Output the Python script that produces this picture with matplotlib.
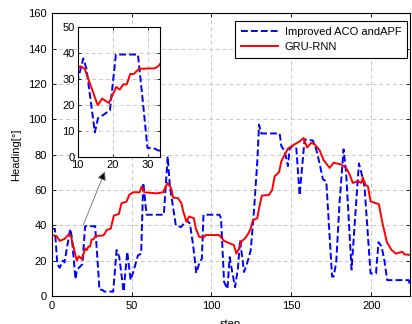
import matplotlib
matplotlib.use("Agg")
import matplotlib.pyplot as plt

plt.rcParams['font.family'] = ['Liberation Sans', 'DejaVu Sans']
plt.rcParams['font.size'] = 8

# ---- data (step, heading in degrees) ----
aco_step = [0, 2, 3.5, 5, 7, 8, 11.6, 12.5, 14.9, 15.8, 16.5, 19.2, 20.9, 27.2, 28.7, 29.9,
            31.6, 33, 38.5, 40.6, 42.3, 45, 47.3, 49.4, 51.5, 54, 56, 57.3, 59.4, 70.2,
            72.6, 74, 77.7, 81, 84.4, 86.5, 88.5, 90.5, 92.5, 94, 95, 105, 106, 107.9,
            110, 111.4, 113, 114.8, 116.6, 117.9, 120.4, 122.5, 124.6, 126.6, 128.7,
            129.8, 131.2, 142.7, 143.7, 145.8, 147.9, 148.9, 150.6, 153.1, 155.2, 158.3,
            163.5, 165.6, 167.7, 169.8, 171.9, 175.5, 176.5, 178.1, 180.2, 182.7, 184.3,
            187.7, 192.3, 193.8, 195.8, 199.6, 203, 204.6, 206.5, 208.3, 210, 223.5, 224]
aco_head = [38, 38, 18, 16, 20, 19, 38, 34, 9.5, 15, 15.5, 18, 39.5, 39.5, 20, 3.5,
            3.5, 2.5, 2.5, 26, 22, 2.5, 25, 9, 15, 23, 24, 64, 46, 46,
            79, 62, 40, 39, 43, 41, 29, 13, 19, 21, 46, 46, 44, 8,
            4, 22, 13.6, 5, 16, 31.6, 13.6, 19, 26, 48, 76,
            97, 92, 92, 85, 82, 73.5, 83, 85, 84, 57, 88.6,
            88, 83, 75, 66, 65, 11, 11, 19, 53, 83, 70,
            15, 75, 70, 62, 12.8, 12.8, 30.5, 28, 20, 9, 9, 7]

gru_step = [0, 3, 5, 8, 10.8, 12, 15.7, 17, 18.9, 21, 22, 23, 24, 25, 26, 27.5, 32, 33,
            34.4, 37, 38.9, 42, 43.7, 46.9, 48.5, 51, 55, 56.3, 57.9, 65.6, 69.7, 72.5,
            74.8, 76, 79.1, 81.2, 82.3, 84.4, 86, 89, 90.2, 92.3, 94.8, 96.4, 104.8,
            107.9, 111, 114, 115.6, 117.3, 118.9, 121, 123.1, 124.6, 126, 128.7, 129.8,
            131.5, 136, 138, 139.6, 142.3, 143.8, 145.8, 148, 152, 155.2, 157.7, 159.8,
            162.5, 164.6, 167.7, 170.2, 174, 176.5, 181, 184.3, 186.5, 188.5, 191.7,
            193.8, 194.8, 196.4, 198, 199.6, 204.8, 206.9, 209.8, 212.8, 215.4, 219.4,
            221, 224]
gru_head = [34.5, 34, 31.2, 32.3, 35, 34, 20, 22.5, 20.8, 27, 26, 28, 28, 32, 32, 34, 34.2, 35,
            37.3, 38.2, 45.5, 46.4, 52.5, 53.4, 57.2, 58.7, 58.7, 62, 58.7, 58.1, 58.7, 64,
            61, 55.7, 55.3, 52.5, 48, 42, 45, 44, 38.3, 33.5, 33, 34.5, 34.5,
            31.2, 30, 28.8, 24, 27, 31, 32.6, 35.4, 38.3, 43, 44, 49.6,
            56.8, 57.2, 60, 67.8, 70, 76.3, 80, 83.5, 85.8, 87.5, 89.4, 84,
            86.7, 85.8, 82.5, 77, 72.5, 75.4, 74.5, 72.5, 68.8, 64, 65,
            64, 67, 63, 62, 53.5, 52, 42, 30.5, 26, 24, 25,
            23.5, 23.3]

x_ticks = [0, 50, 100, 150, 200]
y_ticks = [0, 20, 40, 60, 80, 100, 120, 140, 160]
inset_x_ticks = [10, 20, 30]
inset_y_ticks = [0, 10, 20, 30, 40, 50]

grid_kw = dict(color='#c8c8c8', linestyle=(0, (4, 3)), linewidth=0.7)

fig = plt.figure(figsize=(4.12, 3.24), dpi=100)
ax = fig.add_axes([0.1255, 0.0864, 0.8685, 0.8726])

ax.plot(aco_step, aco_head, color='#0000ff', linestyle='--', linewidth=1.4,
        dashes=(3.5, 1.6), label='Improved ACO andAPF')
ax.plot(gru_step, gru_head, color='#ff0000', linewidth=1.4, label='GRU-RNN')
ax.set_xlim(0, 224)
ax.set_ylim(0, 160)
ax.set_xticks(x_ticks)
ax.set_yticks(y_ticks)
ax.grid(True, **grid_kw)
ax.tick_params(direction='in', top=True, right=True, length=3, width=0.6)
for s in ax.spines.values():
    s.set_linewidth(0.8)
ax.set_xlabel('step', labelpad=6)
ax.set_ylabel('Heading[°]', labelpad=5)

leg = ax.legend(loc='upper right', bbox_to_anchor=(0.994, 0.973), borderaxespad=0,
                fancybox=False, edgecolor='black', framealpha=1, handlelength=3.3,
                borderpad=0.55, labelspacing=0.45, handletextpad=0.6)
leg.get_frame().set_linewidth(0.8)

# arrow pointing at the zoomed region
ax.annotate('', xy=(33.3, 70.5), xytext=(19.8, 40.3),
            arrowprops=dict(arrowstyle='-|>', color='#9a9a9a', fc='black', ec='#707070',
                            lw=0.6, mutation_scale=13, shrinkA=0, shrinkB=0))

# ---- inset ----
ins = fig.add_axes([0.1886, 0.5154, 0.1998, 0.4003])
ins.plot(aco_step, aco_head, color='#0000ff', linestyle='--', linewidth=1.4, dashes=(3.5, 1.6))
ins.plot(gru_step, gru_head, color='#ff0000', linewidth=1.4)
ins.set_xlim(10, 33.5)
ins.set_ylim(0, 50)
ins.set_xticks(inset_x_ticks)
ins.set_yticks(inset_y_ticks)
ins.grid(True, **grid_kw)
ins.tick_params(direction='in', top=True, right=True, length=2.5, width=0.6, pad=2)
for s in ins.spines.values():
    s.set_linewidth(0.8)

fig.savefig('out.png', dpi=100)
